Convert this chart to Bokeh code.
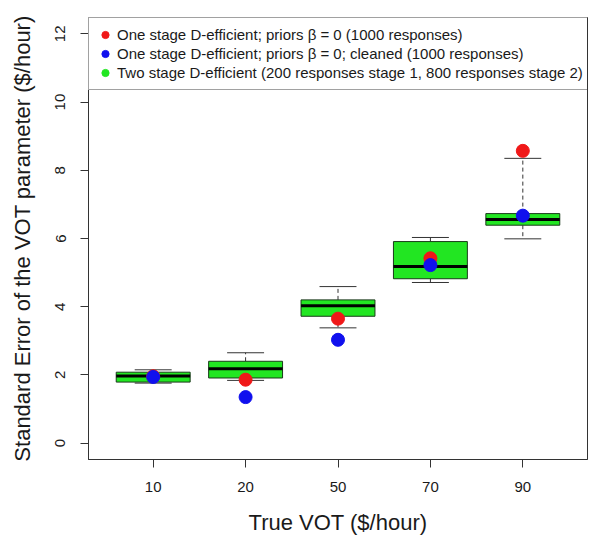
import numpy as np
from bokeh.plotting import figure
from bokeh.models import Range1d, FixedTicker, Legend, LegendItem, ColumnDataSource
from bokeh.embed import file_html
from bokeh.resources import INLINE

# ---- data ----
vot_labels = ["10", "20", "50", "70", "90"]
whisker_low = [1.76, 1.84, 3.38, 4.71, 5.99]
q1 = [1.79, 1.91, 3.72, 4.82, 6.39]
median = [1.97, 2.18, 4.03, 5.18, 6.56]
q3 = [2.08, 2.40, 4.20, 5.91, 6.73]
whisker_high = [2.15, 2.65, 4.59, 6.03, 8.35]
se_one_stage = [1.96, 1.86, 3.65, 5.42, 8.57]
se_one_stage_cleaned = [1.94, 1.35, 3.03, 5.22, 6.67]
y_ticks = [0, 2, 4, 6, 8, 10, 12]
legend_labels = [
    "One stage D-efficient; priors \u03b2 = 0 (1000 responses)",
    "One stage D-efficient; priors \u03b2 = 0; cleaned (1000 responses)",
    "Two stage D-efficient (200 responses stage 1, 800 responses stage 2)",
]

FONT = "Liberation Sans"
TXT = "#1a1a1a"
RED = "#F01818"
BLUE = "#1010EE"
GREEN = "#22E622"

pos = np.arange(1, len(vot_labels) + 1, dtype=float)
box_w = 0.8
cap_w = 0.4
src = ColumnDataSource(dict(
    x=pos,
    lo=whisker_low, q1=q1, med=median, q3=q3, hi=whisker_high,
    red=se_one_stage, blue=se_one_stage_cleaned,
    box_l=pos - box_w / 2, box_r=pos + box_w / 2,
    cap_l=pos - cap_w / 2, cap_r=pos + cap_w / 2,
))

p = figure(width=593, height=540, output_backend="svg", toolbar_location=None,
           x_range=Range1d(0.3, 5.7), y_range=Range1d(-0.48, 12.48),
           min_border_left=88, min_border_right=6, min_border_top=17,
           min_border_bottom=81)
p.grid.visible = False
p.outline_line_color = "#333333"
p.outline_line_width = 1
p.background_fill_color = "white"
p.border_fill_color = "white"

# whiskers (dashed)
p.segment(x0="x", y0="q3", x1="x", y1="hi", source=src, line_color="#333333",
          line_width=1, line_dash="4 3")
p.segment(x0="x", y0="q1", x1="x", y1="lo", source=src, line_color="#333333",
          line_width=1, line_dash="4 3")
# caps
p.segment(x0="cap_l", y0="hi", x1="cap_r", y1="hi", source=src,
          line_color="#333333", line_width=1)
p.segment(x0="cap_l", y0="lo", x1="cap_r", y1="lo", source=src,
          line_color="#333333", line_width=1)
# boxes
p.vbar(x="x", width=box_w, bottom="q1", top="q3", source=src,
       fill_color=GREEN, line_color="#1a3a1a", line_width=1)
# medians
p.segment(x0="box_l", y0="med", x1="box_r", y1="med", source=src,
          line_color="black", line_width=3)
# legend-only green dot renderer (zero size at the medians)
r_green = p.scatter(x="x", y="med", source=src, size=0, fill_color=GREEN,
                    line_color=GREEN)
# points
r_red = p.scatter(x="x", y="red", source=src, size=13, fill_color=RED,
                  line_color=RED)
r_blue = p.scatter(x="x", y="blue", source=src, size=13, fill_color=BLUE,
                   line_color=BLUE)

# axes
p.xaxis.ticker = FixedTicker(ticks=list(pos))
p.xaxis.major_label_overrides = {float(v): lab for v, lab in zip(pos, vot_labels)}
p.yaxis.ticker = FixedTicker(ticks=y_ticks)
p.yaxis.major_label_orientation = "parallel"
for ax in (p.xaxis[0], p.yaxis[0]):
    ax.axis_line_color = "#333333"
    ax.major_tick_line_color = "#333333"
    ax.major_tick_out = 8
    ax.major_tick_in = 0
    ax.minor_tick_line_color = None
    ax.major_label_text_font = FONT
    ax.major_label_text_font_size = "15px"
    ax.major_label_text_color = TXT
    ax.axis_label_text_font = FONT
    ax.axis_label_text_font_size = "22px"
    ax.axis_label_text_font_style = "normal"
    ax.axis_label_text_color = TXT
p.xaxis.axis_label = "True VOT ($/hour)"
p.yaxis.axis_label = "Standard Error of the VOT parameter ($/hour)"
p.xaxis.major_label_standoff = 14
p.xaxis.axis_label_standoff = 15
p.yaxis.major_label_standoff = 15
p.yaxis.axis_label_standoff = 18

legend = Legend(items=[
    LegendItem(label=legend_labels[0], renderers=[r_red]),
    LegendItem(label=legend_labels[1], renderers=[r_blue]),
    LegendItem(label=legend_labels[2], renderers=[r_green]),
], location="top_left", margin=0, padding=7, spacing=0,
   glyph_width=18, glyph_height=19, label_height=19, label_standoff=3,
   label_text_font=FONT, label_text_font_size="15px", label_text_color=TXT,
   border_line_color="#444444", border_line_width=1,
   background_fill_color="white", background_fill_alpha=1.0)
p.add_layout(legend)

open("out.html", "w").write(file_html(p, INLINE))
